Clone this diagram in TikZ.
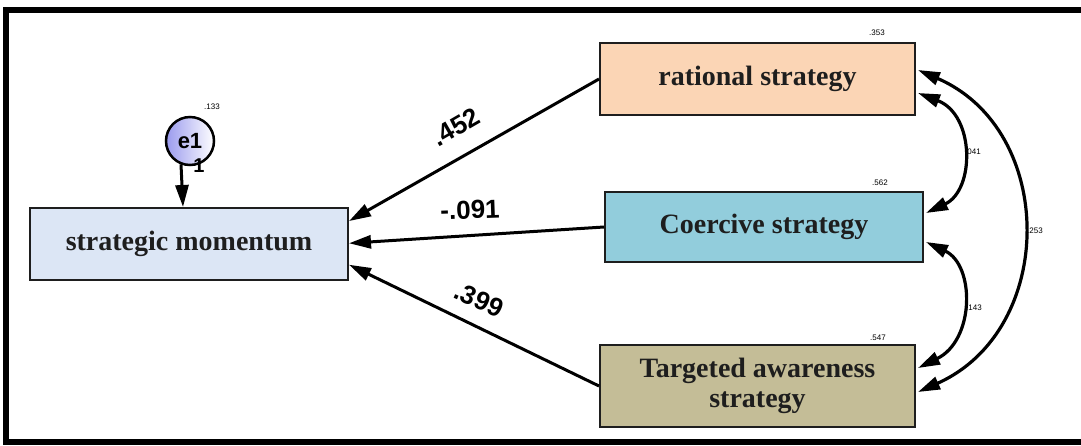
\documentclass[tikz,border=0pt]{standalone}
\usepackage{fontspec}
\setmainfont{Liberation Serif}
\newfontfamily\arialf{Liberation Sans}
\usetikzlibrary{arrows.meta,calc}
\definecolor{momfill}{HTML}{DCE6F5}
\definecolor{ratfill}{HTML}{FBD5B5}
\definecolor{coefill}{HTML}{92CDDC}
\definecolor{tarfill}{HTML}{C4BD97}
\definecolor{edgec}{HTML}{1E1E1E}
\definecolor{e1col}{HTML}{9A9AEE}
\begin{document}
\begin{tikzpicture}[x=1pt,y=-1pt,
  varbox/.style={draw=edgec,line width=2pt,rectangle,align=center,
    font=\fontsize{28}{30}\selectfont\bfseries,text=edgec,inner sep=0pt},
  path/.style={line width=3pt,-{Triangle[length=22pt,width=13pt]}},
  cov/.style={line width=3.2pt,{Triangle[length=22pt,width=13pt]}-{Triangle[length=22pt,width=13pt]}},
  coef/.style={font=\arialf\fontsize{26}{28}\selectfont\bfseries,inner sep=0pt},
  tiny/.style={font=\arialf\fontsize{8}{9}\selectfont,inner sep=0pt}]
\useasboundingbox (0,0) rectangle (1081,445);
\fill[white] (0,0) rectangle (1081,445);
% frame
\draw[line width=6pt,line cap=rect] (1085,10) -- (6,10) -- (6,441.5) -- (1085,441.5);

% variables
\node[varbox,fill=momfill,minimum width=318pt,minimum height=72pt] (mom) at (189,244) {strategic momentum};
\node[varbox,fill=ratfill,minimum width=315pt,minimum height=72pt] (rat) at (757.5,79) {rational strategy};
\node[varbox,fill=coefill,minimum width=318pt,minimum height=70pt] (coe) at (764,227) {Coercive strategy};
\node[varbox,fill=tarfill,minimum width=315pt,minimum height=82pt] (tar) at (757.5,386) {Targeted awareness\\strategy};
\node[circle,draw=black,line width=2.5pt,minimum size=48pt,inner sep=0pt,
  left color=e1col,right color=white,
  font=\arialf\fontsize{22}{24}\selectfont\bfseries] (e1) at (190,141) {e1};

% squared multiple correlations
\node[tiny] (r2e) at (212,107) {.133};
\node[tiny] (r2r) at (877,33) {.353};
\node[tiny] (r2c) at (880,183) {.562};
\node[tiny] (r2t) at (878,338) {.547};

% error arrow
\coordinate (e1s) at ($(e1.south)+(-9,-2)$);
\coordinate (mome) at ($(mom.north)+(-6,0)$);
\draw[path] (e1s) -- (mome);
\node[font=\arialf\fontsize{20}{22}\selectfont\bfseries,inner sep=0pt] (one) at (199,166) {1};

% regression paths
\coordinate (m1) at ($(mom.north east)!0.19!(mom.south east)$);
\coordinate (m2) at ($(mom.north east)!0.49!(mom.south east)$);
\coordinate (m3) at ($(mom.north east)!0.78!(mom.south east)$);
\draw[path] (rat.west) -- (m1);
\draw[path] (coe.west) -- (m2);
\draw[path] (tar.west) -- (m3);
\node[coef,rotate=30] (c1) at (456,127) {.452};
\node[coef,rotate=2] (c2) at (470,210) {-.091};
\node[coef,rotate=-24] (c3) at (479,300) {.399};

% covariances
\coordinate (ra) at ($(rat.east)+(2,14)$);
\coordinate (rb) at ($(rat.east)+(2,-9)$);
\coordinate (ca) at ($(coe.east)+(2,-14)$);
\coordinate (cb) at ($(coe.east)+(2,15)$);
\coordinate (ta) at ($(tar.east)+(2,-18)$);
\coordinate (tb) at ($(tar.east)+(2,6)$);
\draw[cov] (ra) .. controls (975,115) and (975,190) .. (ca);
\draw[cov] (cb) .. controls (975,265) and (975,340) .. (ta);
\draw[cov] (rb) .. controls (1057,130) and (1057,330) .. (tb);
\node[tiny,anchor=west] (k1) at (965,152) {.041};
\node[tiny,anchor=west] (k2) at (966,308) {.143};
\node[tiny,anchor=west] (k3) at (1027,231) {.253};
\end{tikzpicture}
\end{document}
